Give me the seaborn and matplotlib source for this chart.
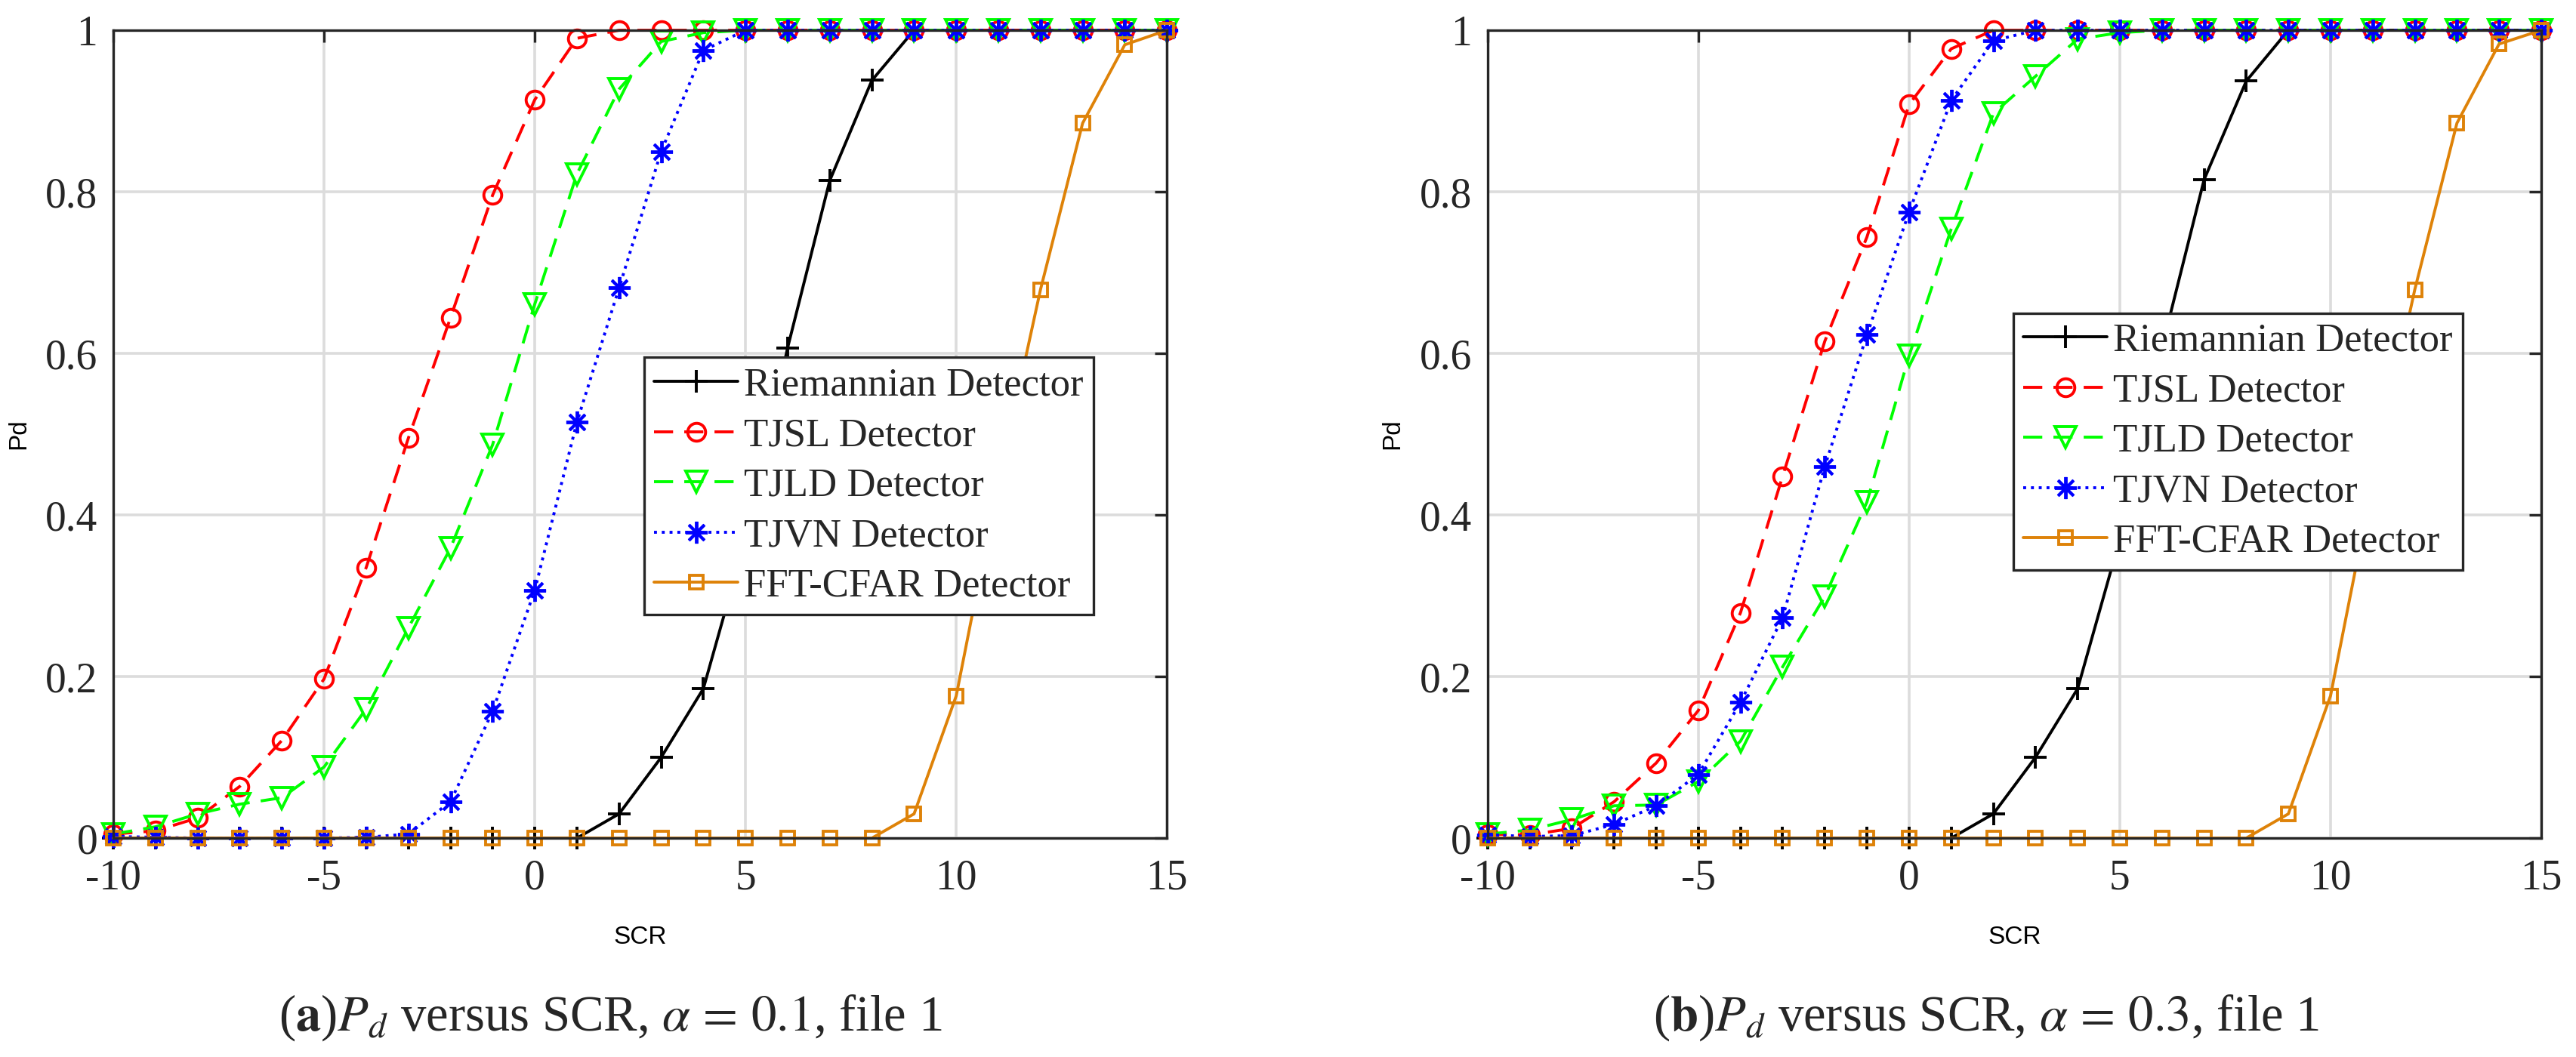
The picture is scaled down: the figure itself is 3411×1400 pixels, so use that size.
import numpy as np
import pandas as pd
import matplotlib
matplotlib.use("Agg")
import matplotlib.pyplot as plt
import seaborn as sns

# SCR axis values
scr = list(range(-10, 16))

# Pd values, panel (a): alpha = 0.1
riem_a = [0, 0, 0, 0, 0, 0, 0, 0, 0, 0, 0, 0, 0.03, 0.10, 0.185, 0.37, 0.607, 0.814, 0.938,
          1, 1, 1, 1, 1, 1, 1]
tjsl_a = [0.005, 0.009, 0.025, 0.064, 0.121, 0.197, 0.335, 0.495, 0.644, 0.796, 0.914, 0.99,
          1, 1, 1, 1, 1, 1, 1, 1, 1, 1, 1, 1, 1, 1]
tjld_a = [0.005, 0.014, 0.03, 0.042, 0.05, 0.088, 0.16, 0.26, 0.359, 0.487, 0.661, 0.822,
          0.927, 0.986, 0.997, 1, 1, 1, 1, 1, 1, 1, 1, 1, 1, 1]
tjvn_a = [0.002, 0.001, 0, 0, 0, 0, 0.001, 0.005, 0.045, 0.157, 0.307, 0.515, 0.681, 0.85,
          0.975, 1, 1, 1, 1, 1, 1, 1, 1, 1, 1, 1]
fft_a = [0, 0, 0, 0, 0, 0, 0, 0, 0, 0, 0, 0, 0, 0, 0, 0, 0, 0, 0,
         0.03, 0.176, 0.44, 0.679, 0.885, 0.982, 1.0]

# Pd values, panel (b): alpha = 0.3
riem_b = [0, 0, 0, 0, 0, 0, 0, 0, 0, 0, 0, 0, 0.03, 0.10, 0.185, 0.37, 0.607, 0.815, 0.937,
          1, 1, 1, 1, 1, 1, 1]
tjsl_b = [0.005, 0.004, 0.012, 0.045, 0.093, 0.158, 0.279, 0.448, 0.615, 0.744, 0.908, 0.977,
          1, 1, 1, 1, 1, 1, 1, 1, 1, 1, 1, 1, 1, 1]
tjld_b = [0.005, 0.01, 0.023, 0.04, 0.041, 0.07, 0.12, 0.212, 0.299, 0.416, 0.597, 0.754,
          0.897, 0.943, 0.989, 0.997, 1, 1, 1, 1, 1, 1, 1, 1, 1, 1]
tjvn_b = [0.004, 0.002, 0.003, 0.017, 0.04, 0.079, 0.168, 0.273, 0.46, 0.623, 0.775, 0.913,
          0.987, 1, 1, 1, 1, 1, 1, 1, 1, 1, 1, 1, 1, 1]
fft_b = [0, 0, 0, 0, 0, 0, 0, 0, 0, 0, 0, 0, 0, 0, 0, 0, 0, 0, 0,
         0.03, 0.176, 0.44, 0.679, 0.885, 0.983, 1.0]

detectors = ["Riemannian Detector", "TJSL Detector", "TJLD Detector",
             "TJVN Detector", "FFT-CFAR Detector"]
yticks = [0, 0.2, 0.4, 0.6, 0.8, 1]
ytick_labels = ["0", "0.2", "0.4", "0.6", "0.8", "1"]
xticks = [-10, -5, 0, 5, 10, 15]
captions = [r"($\mathbf{a}$)$P_d$ versus SCR, $\alpha\,=\,0.1$, file 1",
            r"($\mathbf{b}$)$P_d$ versus SCR, $\alpha\,=\,0.3$, file 1"]

sns.set_theme(style="white")
plt.rcParams["font.family"] = ["Liberation Serif", "DejaVu Serif"]
plt.rcParams["mathtext.fontset"] = "stix"
plt.rcParams["axes.unicode_minus"] = False

orange = "#DE8208"
lw = 2.8
styles = [
    dict(color="black", linestyle="-", marker="+", markersize=22),
    dict(color="#FF0000", linestyle=(0, (6.5, 3.8)), marker="o", markersize=17),
    dict(color="#00FF00", linestyle=(0, (6.5, 3.8)), marker="v", markersize=20),
    dict(color="#0000FF", linestyle=":", marker=(8, 2, 0), markersize=21),
    dict(color=orange, linestyle="-", marker="s", markersize=13),
]

fig = plt.figure(figsize=(34.11, 14), dpi=100)
ax_a = fig.add_axes([0.0440, 0.2071, 0.4090, 0.7643])
ax_b = fig.add_axes([0.5775, 0.2071, 0.4090, 0.7643])


def draw_panel(ax, series, legend_anchor):
    for name, vals, st in zip(detectors, series, styles):
        df = pd.DataFrame({"SCR": scr, "Pd": vals})
        sns.lineplot(data=df, x="SCR", y="Pd", ax=ax, estimator=None, errorbar=None,
                     color=st["color"], linestyle=st["linestyle"], linewidth=lw,
                     marker=st["marker"], markersize=st["markersize"],
                     markeredgecolor=st["color"], markerfacecolor="none",
                     markeredgewidth=2.8, clip_on=False, label=name)
    ax.set_xlim(-10, 15)
    ax.set_ylim(0, 1)
    ax.set_xticks(xticks)
    ax.set_xticklabels([str(v) for v in xticks])
    ax.set_yticks(yticks)
    ax.set_yticklabels(ytick_labels)
    ax.grid(True, color="#dcdcdc", linewidth=2.6)
    ax.set_axisbelow(True)
    for sp in ax.spines.values():
        sp.set_color("#262626")
        sp.set_linewidth(2.4)
    ax.tick_params(axis="both", which="major", direction="in", length=11.5, width=2.4,
                   color="#262626", labelcolor="#262626", labelsize=40,
                   top=True, right=True)
    ax.tick_params(axis="x", pad=20)
    ax.tick_params(axis="y", pad=15)
    for lab in ax.get_xticklabels() + ax.get_yticklabels():
        lab.set_fontfamily("Liberation Serif")
    ax.set_xlabel("SCR", fontfamily="Liberation Sans", fontsize=24, color="black")
    ax.set_ylabel("Pd", fontfamily="Liberation Sans", fontsize=24, color="black")
    ax.xaxis.set_label_coords(0.5, -0.108)
    ax.yaxis.set_label_coords(-0.079, 0.5)
    leg = ax.legend(loc="upper left", bbox_to_anchor=legend_anchor, borderaxespad=0,
                    frameon=True, fancybox=False, framealpha=1, edgecolor="#262626",
                    prop={"family": "Liberation Serif", "size": 38},
                    handlelength=2.1, handletextpad=0.15, labelspacing=0.35,
                    borderpad=0.25, numpoints=1)
    leg.get_frame().set_linewidth(2.4)


draw_panel(ax_a, [riem_a, tjsl_a, tjld_a, tjvn_a, fft_a], (0.504, 0.595))
draw_panel(ax_b, [riem_b, tjsl_b, tjld_b, tjvn_b, fft_b], (0.499, 0.650))

fig.text(0.2369, 0.025, captions[0], ha="center", va="baseline", fontsize=48)
fig.text(0.771, 0.025, captions[1], ha="center", va="baseline", fontsize=48)

fig.savefig("out.png", dpi=100)
